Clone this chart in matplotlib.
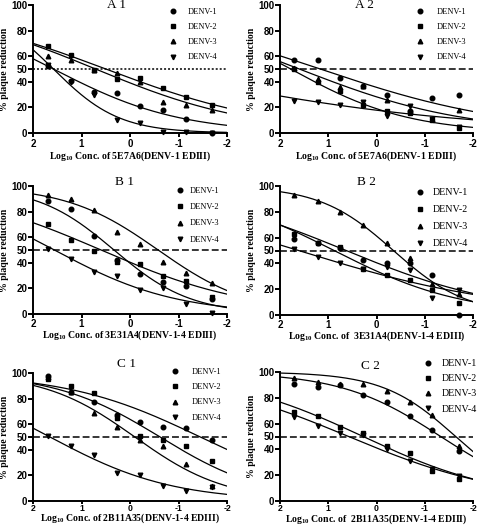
import numpy as np
import matplotlib.pyplot as plt

plt.rcParams["font.family"] = "Liberation Serif"
plt.rcParams["axes.unicode_minus"] = False
plt.rcParams["mathtext.fontset"] = "custom"
plt.rcParams["mathtext.rm"] = "Liberation Serif:bold"
plt.rcParams["mathtext.default"] = "rm"

LOG_CONC = [1.7, 1.22, 0.75, 0.27, -0.21, -0.69, -1.16, -1.7]
SEROTYPES = ["DENV-1", "DENV-2", "DENV-3", "DENV-4"]
MARKERS = ["o", "s", "^", "v"]
PANELS = ["A 1", "A 2", "B 1", "B 2", "C 1", "C 2"]
ANTIBODIES = ["5E7A6(DENV-1 EDIII)", "5E7A6(DENV-1 EDIII)",
              "3E31A4(DENV-1-4 EDIII)", " 3E31A4(DENV-1-4 EDIII)",
              "2B11A35(DENV-1-4 EDIII)", " 2B11A35(DENV-1-4 EDIII)"]

# % plaque reduction, one row per serotype (DENV-1..4)
a1_reduction = [[52, 41, 32, 31, 21, 18, 11, 0],
                [68, 61, 49, 42, 43, 35, 28, 22],
                [60, 57, 49, 47, 40, 24, 22, 18],
                [53, 40, 30, 10, 8, 0.5, 0.5, 0]]
a2_reduction = [[57, 57, 43, 37, 30, 17, 27, 30],
                [50, 40, 33, 22, 17, 16, 10, 4],
                [51, 42, 36, 37, 26, 17, 11, 18],
                [25, 24, 22, 24, 13, 21, 11, 5]]
b1_reduction = [[88, 82, 61, 42, 31, 25, 22, 12],
                [70, 58, 49, 41, 39, 30, 26, 13],
                [93, 90, 81, 64, 55, 41, 32, 24],
                [51, 43, 33, 30, 19, 20, 8, 1]]
b2_reduction = [[59, 56, 52, 43, 40, 40, 31, 0],
                [63, 56, 53, 36, 31, 27, 19, 9],
                [93, 88, 80, 70, 56, 44, 24, 16],
                [51, 45, 40, 36, 37, 35, 13, 19]]
c1_reduction = [[98, 85, 77, 67, 62, 58, 57, 48],
                [95, 90, 84, 65, 51, 48, 43, 31],
                [97, 85, 69, 58, 48, 43, 29, 12],
                [51, 43, 36, 22, 20, 12, 8, 11]]
c2_reduction = [[91, 88, 90, 82, 77, 66, 55, 39],
                [69, 66, 57, 53, 43, 37, 23, 17],
                [95, 92, 91, 91, 85, 77, 67, 43],
                [65, 58, 53, 51, 40, 31, 25, 19]]

# fitted curves: log10 IC50 and hill slope per serotype
a1_ic50, a1_hill = [1.58, 0.50, 0.71, 1.58], [0.334, 0.246, 0.270, 0.642]
a2_ic50, a2_hill = [1.17, 1.78, 1.60, 4.85], [0.219, 0.354, 0.253, 0.137]
b1_ic50, b1_hill = [0.33, 0.60, -0.58, 1.56], [0.550, 0.283, 0.457, 0.347]
b2_ic50, b2_hill = [0.63, 0.88, -0.35, 1.62], [0.265, 0.326, 0.569, 0.199]
c1_ic50, c1_hill = [-1.45, -0.62, -0.10, 1.65], [0.311, 0.398, 0.463, 0.346]
c2_ic50, c2_hill = [-1.33, 0.28, -1.64, 0.58], [0.418, 0.301, 0.574, 0.269]

REDUCTIONS = [a1_reduction, a2_reduction, b1_reduction, b2_reduction, c1_reduction, c2_reduction]
IC50S = [a1_ic50, a2_ic50, b1_ic50, b2_ic50, c1_ic50, c2_ic50]
HILLS = [a1_hill, a2_hill, b1_hill, b2_hill, c1_hill, c2_hill]

W, H = 480, 531


def px_rect(left, top, right, bottom):
    return [left / W, 1 - bottom / H, (right - left) / W, (bottom - top) / H]


# layout: axes box, title pos, legend (x, y, size, spacing, textpad), dash,
# xlabel top, xtick (len, pad, fontsize)
LAYOUT = [
    dict(rect=px_rect(33, 5, 227, 133), title=(0.43, 1.0), leg=(0.70, 0.975, 6, 0.85, 1.3),
         dash=(1.3, 1.3), xlab=-0.13, xtick=(3, 1.5, 7)),
    dict(rect=px_rect(280, 5, 473, 133), title=(0.44, 1.0), leg=(0.704, 0.975, 6, 0.85, 1.5),
         dash=(4.5, 2), xlab=-0.13, xtick=(3, 1.5, 7)),
    dict(rect=px_rect(33, 186, 227, 314), title=(0.47, 1.03), leg=(0.736, 0.99, 6, 0.97, 0.7),
         dash=(4.5, 2), xlab=-0.115, xtick=(3, 0.8, 7)),
    dict(rect=px_rect(280, 186, 473, 315), title=(0.45, 1.03), leg=(0.70, 0.983, 7.2, 0.81, 0.8),
         dash=(4.5, 2), xlab=-0.115, xtick=(3, 0.8, 7)),
    dict(rect=px_rect(33, 373, 227, 501), title=(0.48, 1.07), leg=(0.71, 1.037, 6, 0.85, 1.5),
         dash=(4.5, 2), xlab=-0.085, xtick=(2.2, 0, 6.2)),
    dict(rect=px_rect(280, 372, 473, 501), title=(0.466, 1.047), leg=(0.741, 1.10, 7.2, 0.62, 0.9),
         dash=(4.5, 2), xlab=-0.09, xtick=(2.2, 0, 6.2)),
]


def dose_response(x, log_ic50, hill):
    return 100.0 / (1.0 + 10 ** ((log_ic50 - x) * hill))


def draw_panel(fig, idx):
    lay = LAYOUT[idx]
    ax = fig.add_axes(lay["rect"])
    xs = np.linspace(2, -2, 200)
    for i, name in enumerate(SEROTYPES):
        ax.plot(LOG_CONC, REDUCTIONS[idx][i], ls="none", marker=MARKERS[i], ms=3.3,
                color="k", clip_on=False, label=name)
        ax.plot(xs, dose_response(xs, IC50S[idx][i], HILLS[idx][i]), color="k", lw=0.9)
    ax.axhline(50, color="k", lw=1.1, ls=(0, lay["dash"]))

    ax.set_xlim(2, -2)
    ax.set_ylim(0, 100)
    ax.set_xticks([2, 1, 0, -1, -2])
    ax.set_yticks([0, 20, 40, 50, 60, 80, 100])
    for side in ["top", "right"]:
        ax.spines[side].set_visible(False)
    for side in ["left", "bottom"]:
        ax.spines[side].set_linewidth(1.4)
    tick_len, tick_pad, tick_fs = lay["xtick"]
    ax.tick_params(axis="y", direction="out", length=3.5, width=1.4, pad=0.5)
    ax.tick_params(axis="x", direction="out", length=tick_len, width=1.4, pad=tick_pad)
    for lab in ax.get_yticklabels():
        lab.set_fontfamily("Liberation Sans")
        lab.set_fontweight("bold")
        lab.set_fontsize(7)
    for lab in ax.get_xticklabels():
        lab.set_fontfamily("Liberation Sans")
        lab.set_fontweight("bold")
        lab.set_fontsize(tick_fs)

    ax.set_ylabel("% plaque reduction", fontsize=7, fontweight="bold")
    ax.yaxis.set_label_coords(-0.125, 0.5)
    ax.set_xlabel(r"Log$_{10}$ Conc. of " + ANTIBODIES[idx], fontsize=7, fontweight="bold")
    ax.xaxis.set_label_coords(0.5, lay["xlab"])

    tx, ty = lay["title"]
    ax.text(tx, ty, PANELS[idx], transform=ax.transAxes, ha="center", va="center", fontsize=9.5)

    lx, ly, lsize, lspace, lpad = lay["leg"]
    ax.legend(loc="upper left", bbox_to_anchor=(lx, ly), frameon=False, fontsize=lsize,
              numpoints=1, handlelength=1.0, handletextpad=lpad, labelspacing=lspace,
              borderpad=0, borderaxespad=0)
    return ax


fig = plt.figure(figsize=(W / 100, H / 100), dpi=100)
for k in range(len(PANELS)):
    draw_panel(fig, k)
fig.savefig("out.png", dpi=100)
